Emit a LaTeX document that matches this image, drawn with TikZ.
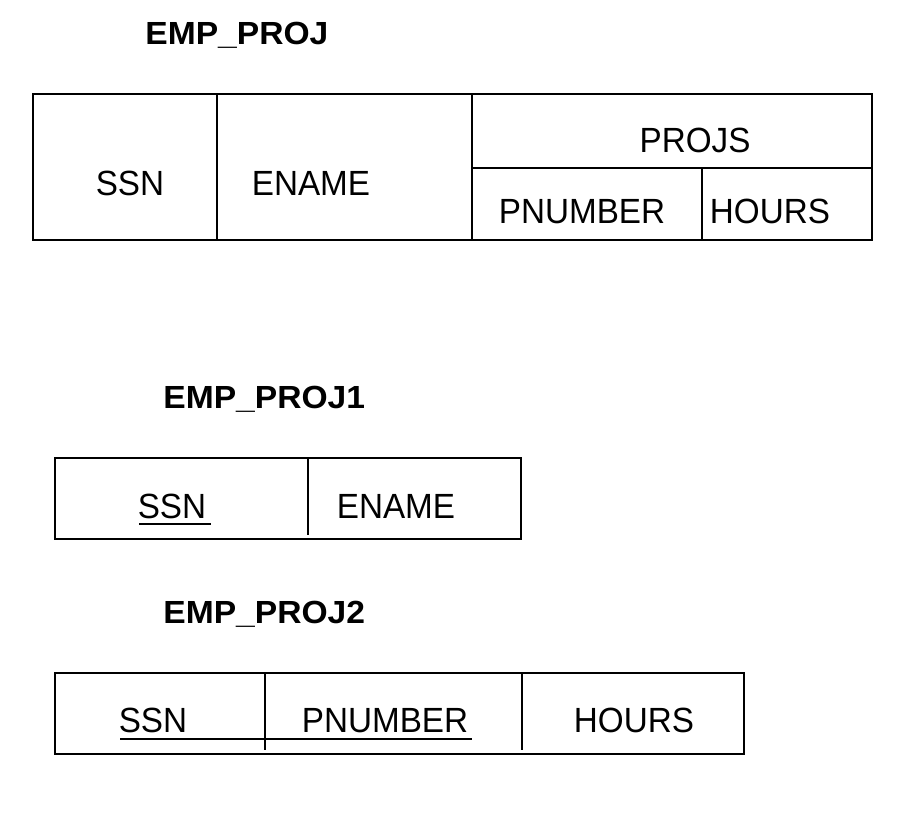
\documentclass[tikz,border=0pt]{standalone}
\usepackage{fontspec}
\setmainfont{Liberation Sans}[FakeStretch=0.95]
\newfontfamily\titlefont{Liberation Sans}[FakeStretch=1.05]
\begin{document}
\begin{tikzpicture}[x=0.5pt,y=-0.5pt,
  tbl/.style={line width=1pt,line join=miter},
  attr/.style={anchor=base,inner sep=0pt,font=\fontsize{17.5pt}{20pt}\selectfont},
  ttl/.style={anchor=base west,inner sep=0pt,font=\titlefont\bfseries\fontsize{16pt}{19pt}\selectfont},
  ul/.style={line width=1pt}]
\useasboundingbox (0,0) rectangle (924,812);
% ---- EMP_PROJ ----
\node[ttl] (t0) at (145,45) {EMP\_PROJ};
\draw[tbl] (33,94) rectangle (872,240);
\draw[tbl] (217,94) -- (217,240);
\draw[tbl] (472,94) -- (472,240);
\draw[tbl] (472,168) -- (872,168);
\draw[tbl] (702,168) -- (702,240);
\node[attr] (a1) at (130,196) {SSN};
\node[attr] (a2) at (311,196) {ENAME};
\node[attr] (a3) at (695,153) {PROJS};
\node[attr] (a4) at (582,224) {PNUMBER};
\node[attr] (a5) at (770,224) {HOURS};
% ---- EMP_PROJ1 ----
\node[ttl] (t1) at (163,408) {EMP\_PROJ1};
\draw[tbl] (55,458) rectangle (521,539);
\draw[tbl] (308,458) -- (308,535);
\node[attr] (b1) at (172,518) {SSN};
\node[attr] (b2) at (396,518) {ENAME};
\draw[ul] (139,524) -- (211,524);
% ---- EMP_PROJ2 ----
\node[ttl] (t2) at (163,623) {EMP\_PROJ2};
\draw[tbl] (55,673) rectangle (744,754);
\draw[tbl] (265,673) -- (265,750);
\draw[tbl] (522,673) -- (522,750);
\node[attr] (c1) at (153,732) {SSN};
\node[attr] (c2) at (385,732) {PNUMBER};
\node[attr] (c3) at (634,732) {HOURS};
\draw[ul] (120,739) -- (472,739);
\end{tikzpicture}
\end{document}
